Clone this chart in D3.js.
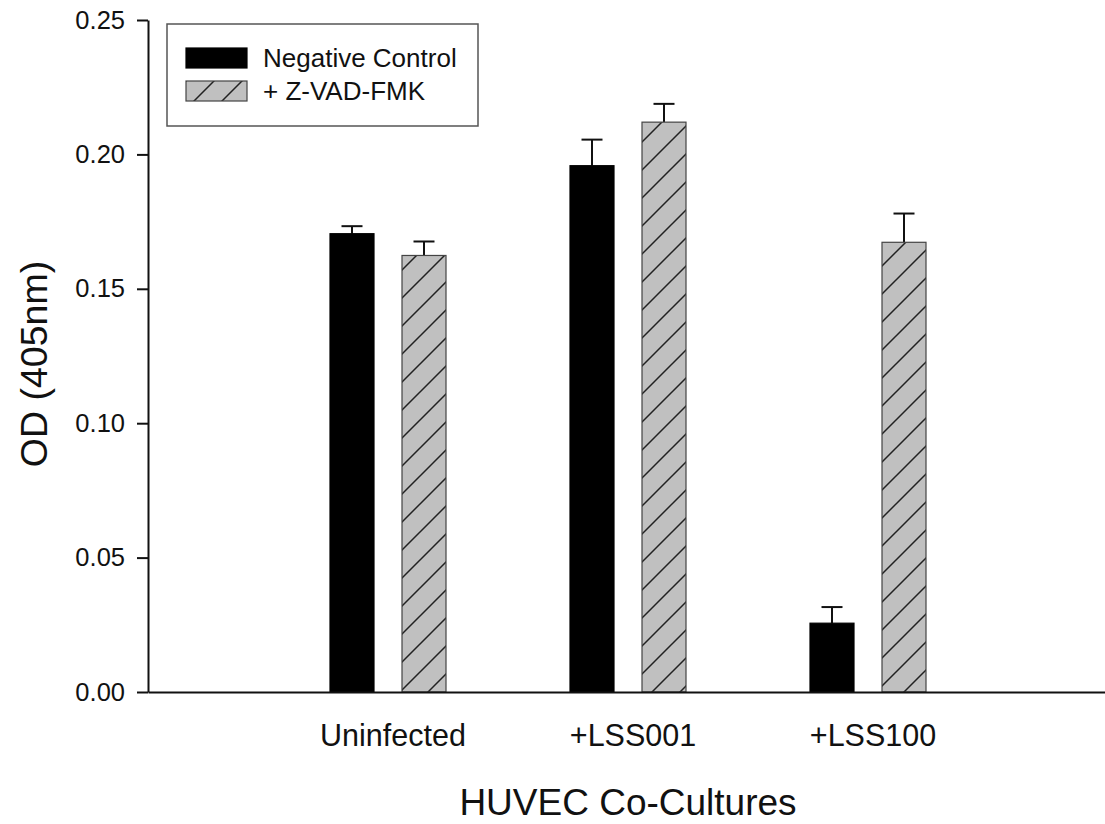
<!DOCTYPE html>
<html>
<head>
<meta charset="utf-8">
<script src="https://cdn.jsdelivr.net/npm/d3@7"></script>
<style>
    html, body { margin: 0; padding: 0; background: #fff; }
    svg { display: block; font-family: 'Liberation Sans', Arial, sans-serif; }
</style>
</head>
<body>
<div id="chart"></div>
<script>
'use strict';

var categories = ['Uninfected', '+LSS001', '+LSS100'];
var seriesNames = ['Negative Control', '+ Z-VAD-FMK'];
var negativeControl = [0.1705, 0.1958, 0.0256];
var negativeControlErr = [0.0028, 0.0097, 0.0060];
var zvadFmk = [0.1624, 0.2120, 0.1673];
var zvadFmkErr = [0.0052, 0.0068, 0.0107];
var yTicks = [0.00, 0.05, 0.10, 0.15, 0.20, 0.25];
var xTitle = 'HUVEC Co-Cultures';
var yTitle = 'OD (405nm)';

var width = 1105;
var height = 824;
var plot = { left: 148, right: 1108, top: 20, bottom: 692 };

var svg = d3.select('#chart').append('svg')
    .attr('width', width)
    .attr('height', height);

// hatch for the second series
var defs = svg.append('defs');
defs.append('pattern')
    .attr('id', 'hatch')
    .attr('patternUnits', 'userSpaceOnUse')
    .attr('width', 28)
    .attr('height', 28)
    .call(function (p) {
        p.append('rect').attr('width', 28).attr('height', 28).attr('fill', '#c0c0c0');
        p.append('path')
            .attr('d', 'M-7,7L7,-7M0,28L28,0M21,35L35,21')
            .attr('stroke', '#222')
            .attr('stroke-width', 1.5);
    });

var x0 = d3.scaleBand()
    .domain(categories)
    .range([plot.left, plot.right])
    .paddingInner(0)
    .paddingOuter(0.5);

var x1 = d3.scaleBand()
    .domain(seriesNames)
    .range([0, 116])
    .paddingInner(28 / 72);

var y = d3.scaleLinear()
    .domain([0, 0.25])
    .range([plot.bottom, plot.top]);

var rows = [];
categories.forEach(function (c, i) {
    rows.push({ cat: c, series: seriesNames[0], value: negativeControl[i], err: negativeControlErr[i] });
    rows.push({ cat: c, series: seriesNames[1], value: zvadFmk[i], err: zvadFmkErr[i] });
});

var barX = function (d) {
    return x0(d.cat) + x0.bandwidth() / 2 - 58 + x1(d.series);
};
var fillFor = function (s) {
    return s === seriesNames[0] ? '#000' : 'url(#hatch)';
};

// error bars (upper only), drawn beneath bars
var errG = svg.append('g').attr('stroke', '#111').attr('stroke-width', 2);
rows.forEach(function (d) {
    var cx = barX(d) + x1.bandwidth() / 2;
    var top = y(d.value + d.err);
    errG.append('line')
        .attr('x1', cx).attr('x2', cx)
        .attr('y1', y(d.value)).attr('y2', top);
    errG.append('line')
        .attr('x1', cx - 10.5).attr('x2', cx + 10.5)
        .attr('y1', top).attr('y2', top);
});

svg.append('g').selectAll('rect')
    .data(rows)
    .join('rect')
    .attr('x', barX)
    .attr('y', function (d) { return y(d.value); })
    .attr('width', x1.bandwidth())
    .attr('height', function (d) { return y(0) - y(d.value); })
    .attr('fill', function (d) { return fillFor(d.series); })
    .attr('stroke', function (d) { return d.series === seriesNames[0] ? '#000' : '#444'; })
    .attr('stroke-width', 1.2);

// axes
var yAxis = d3.axisLeft(y)
    .tickValues(yTicks)
    .tickFormat(d3.format('.2f'))
    .tickSize(11)
    .tickPadding(12)
    .tickSizeOuter(0);

svg.append('g')
    .attr('transform', 'translate(' + plot.left + ',0)')
    .call(yAxis)
    .call(function (g) {
        g.select('.domain').attr('stroke', '#111').attr('stroke-width', 2);
        g.selectAll('.tick line').attr('stroke', '#111').attr('stroke-width', 2);
        g.selectAll('.tick text')
            .attr('fill', '#111')
            .style('font-size', '25.5px')
            .style('font-family', "'Liberation Sans', Arial, sans-serif");
    });

var xAxis = d3.axisBottom(x0)
    .tickSize(0)
    .tickPadding(32)
    .tickSizeOuter(0);

svg.append('g')
    .attr('transform', 'translate(0,' + plot.bottom + ')')
    .call(xAxis)
    .call(function (g) {
        g.select('.domain').attr('stroke', '#111').attr('stroke-width', 2);
        g.selectAll('.tick text')
            .attr('fill', '#111')
            .attr('dx', 5)
            .style('font-size', '30.5px')
            .style('font-family', "'Liberation Sans', Arial, sans-serif");
    });

// titles
svg.append('text')
    .attr('x', (plot.left + plot.right) / 2)
    .attr('y', 815)
    .attr('text-anchor', 'middle')
    .attr('fill', '#111')
    .style('font-size', '37px')
    .text(xTitle);

svg.append('text')
    .attr('transform', 'translate(47,364) rotate(-90)')
    .attr('text-anchor', 'middle')
    .attr('fill', '#111')
    .style('font-size', '37.5px')
    .text(yTitle);

// legend
var legend = svg.append('g');
legend.append('rect')
    .attr('x', 167).attr('y', 24)
    .attr('width', 311).attr('height', 102)
    .attr('fill', '#fff')
    .attr('stroke', '#555')
    .attr('stroke-width', 1.5);

var legendItems = legend.selectAll('g.item')
    .data(seriesNames)
    .join('g')
    .attr('class', 'item')
    .attr('transform', function (d, i) { return 'translate(186,' + (48 + i * 33) + ')'; });

legendItems.append('rect')
    .attr('width', 61).attr('height', 20)
    .attr('fill', fillFor)
    .attr('stroke', function (d, i) { return i === 0 ? '#000' : '#444'; })
    .attr('stroke-width', 1.2);

legendItems.append('text')
    .attr('x', 77)
    .attr('y', 19)
    .attr('fill', '#111')
    .style('font-size', '26px')
    .text(function (d) { return d; });
</script>
</body>
</html>
